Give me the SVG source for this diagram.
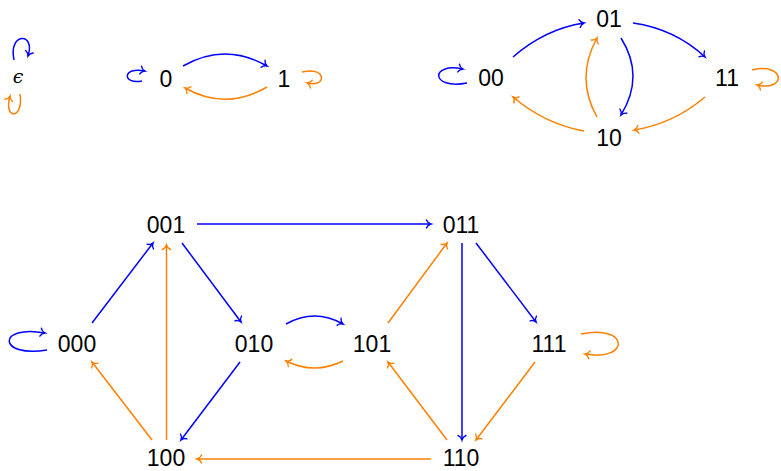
<svg xmlns="http://www.w3.org/2000/svg" width="781" height="471" viewBox="0 0 781 471">
<style>
text{font-family:"Liberation Sans",Arial,sans-serif;font-size:23px;fill:#000;text-anchor:middle}
.eps{font-family:"DejaVu Serif",serif;font-style:italic;font-size:19px}
.b{stroke:#0000ff;stroke-width:1.5;fill:none;marker-end:url(#ab)}
.o{stroke:#ff8000;stroke-width:1.5;fill:none;marker-end:url(#ao)}
</style>
<defs>
<marker id="ab" markerUnits="userSpaceOnUse" markerWidth="12" markerHeight="12" viewBox="-6 -6 12 12" refX="0" refY="0" orient="auto" overflow="visible">
<path d="M-4.5,-4 C-3.5,-1.5 -1.5,-0.4 0,0 C-1.5,0.4 -3.5,1.5 -4.5,4" fill="none" stroke="#0000ff" stroke-width="1.4" stroke-linecap="round"/>
</marker>
<marker id="ao" markerUnits="userSpaceOnUse" markerWidth="12" markerHeight="12" viewBox="-6 -6 12 12" refX="0" refY="0" orient="auto" overflow="visible">
<path d="M-4.5,-4 C-3.5,-1.5 -1.5,-0.4 0,0 C-1.5,0.4 -3.5,1.5 -4.5,4" fill="none" stroke="#ff8000" stroke-width="1.4" stroke-linecap="round"/>
</marker>
</defs>
<g id="n-eps"><text class="eps" x="18" y="83">ϵ</text></g>
<g id="n1-0"><text x="166" y="87">0</text></g>
<g id="n1-1"><text x="284" y="87">1</text></g>
<g id="n2-00"><text x="491" y="86">00</text></g>
<g id="n2-01"><text x="609" y="27">01</text></g>
<g id="n2-11"><text x="727" y="86">11</text></g>
<g id="n2-10"><text x="609" y="146">10</text></g>
<g id="n3-000"><text x="77" y="352">000</text></g>
<g id="n3-001"><text x="166" y="233">001</text></g>
<g id="n3-010"><text x="254" y="352">010</text></g>
<g id="n3-011"><text x="461" y="233">011</text></g>
<g id="n3-100"><text x="166" y="466">100</text></g>
<g id="n3-101"><text x="372" y="352">101</text></g>
<g id="n3-110"><text x="461" y="466">110</text></g>
<g id="n3-111"><text x="549" y="352">111</text></g>
<g id="connectors">
<path class="b" d="M14,60 C8,32 36,32 28,56"/>
<path class="o" d="M20,94 C24,120 3,120 10,96"/>
<path class="b" d="M142,81 C122,85 122,66 145,71"/>
<path class="o" d="M302,72 C327,66 327,88 307,83"/>
<path class="b" d="M183,66 Q225,42 267,66"/>
<path class="o" d="M267,87 Q226,111 185,88"/>
<path class="b" d="M467,83 C430,90 430,62 463,69"/>
<path class="o" d="M752,70 C786,62 786,92 757,85"/>
<path class="b" d="M513,57 Q545,29 584,23"/>
<path class="b" d="M633,23 Q675,29 705,57"/>
<path class="b" d="M621,38 Q645,76 621,115"/>
<path class="o" d="M597,117 Q575,78 597,38"/>
<path class="o" d="M584,131 Q545,124 513,97"/>
<path class="o" d="M705,97 Q673,124 634,130"/>
<path class="b" d="M47,350 C-3,358 -3,324 45,333"/>
<path class="o" d="M581,334 C630,324 630,362 585,354"/>
<path class="b" d="M197,224 L431,224"/>
<path class="b" d="M92,323 L153,243"/>
<path class="b" d="M182,243 L241,322"/>
<path class="b" d="M240,362 L181,440"/>
<path class="o" d="M152,440 L92,362"/>
<path class="o" d="M166.5,440 L166.5,245"/>
<path class="o" d="M431,459 L197,459"/>
<path class="b" d="M286,324 Q314.5,308 343,324"/>
<path class="o" d="M343,361 Q314.5,375 286,361"/>
<path class="o" d="M388,323 L447,243"/>
<path class="b" d="M476,243 L536,322"/>
<path class="b" d="M462,243 L462,440"/>
<path class="o" d="M535,362 L476,440"/>
<path class="o" d="M447,440 L388,362"/>
</g>
</svg>
